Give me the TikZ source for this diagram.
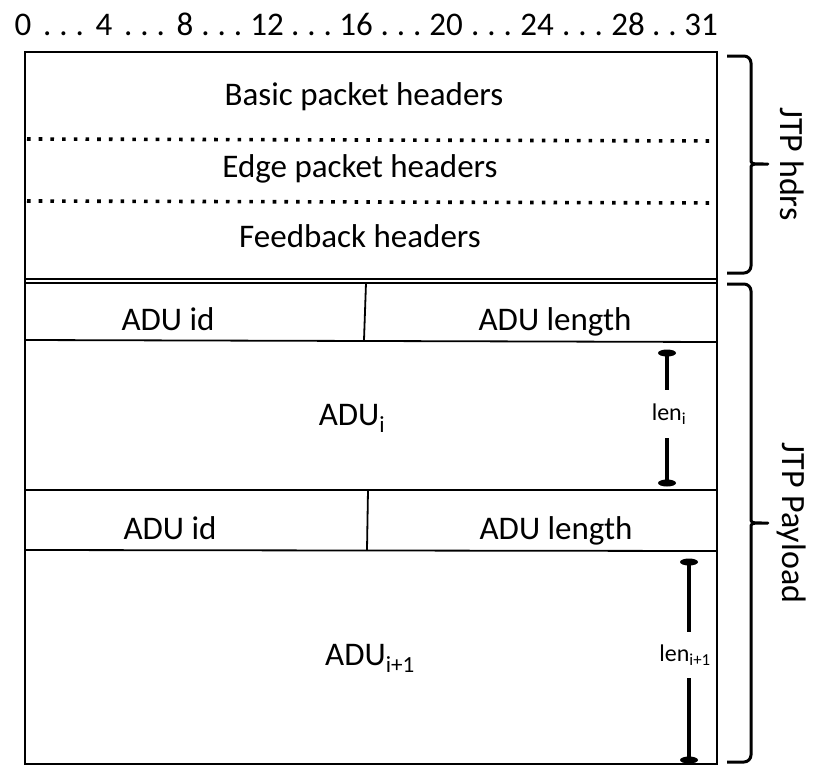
\documentclass[tikz,border=0pt]{standalone}
\usepackage{fontspec}
\setmainfont{Carlito}
\usetikzlibrary{calc}
\tikzset{
  fldtxt/.style={font=\fontsize{33}{38}\selectfont, inner sep=0pt, anchor=base},
  bittxt/.style={font=\fontsize{33}{36}\selectfont, inner sep=0pt, anchor=base},
  lentxt/.style={font=\fontsize{24}{28}\selectfont, inner sep=0pt, minimum height=#1},
  sidetxt/.style={font=\fontsize{34}{38}\selectfont, rotate=-90, inner sep=0pt},
  frame/.style={line width=2.2pt},
  sep/.style={line width=1.8pt},
  dotsep/.style={line width=3.6pt, dash pattern=on 3.6pt off 8.1pt},
  brc/.style={line width=3pt, rounded corners=7pt, line join=round},
  lenbar/.style={line width=3.8pt},
}

\begin{document}
\begin{tikzpicture}[x=1pt,y=-1pt]
    \useasboundingbox (0,0) rectangle (817,766);
    \foreach \x/\n [count=\k] in {23/0,104/4,185/8,267/12,356/16,446/20,537/24,628/28,701/31}
      \node[bittxt] (b\k) at (\x,35) {\n};
    \foreach \a/\b/\nd in {1/2/3,2/3/3,3/4/3,4/5/3,5/6/3,6/7/3,7/8/3,8/9/2}
      \node[bittxt] (d\a) at ($(b\a.base east)!0.5!(b\b.base west)$)
        {\addfontfeature{LetterSpace=24}\ifnum\nd=3 ...\else ..\fi};

    \draw[frame] (25,52) rectangle (717,764);
    \draw[dotsep] (27,139) -- (717,141);
    \draw[dotsep] (27,201) -- (717,203);
    \draw[sep] (25,279) -- (717,279);
    \draw[sep] (25,283) -- (717,283);
    \draw[sep] (366,283) -- (364,340);
    \draw[sep] (25,340) -- (717,342);
    \draw[sep] (25,490) -- (717,490);
    \draw[sep] (368,490) -- (367,550);
    \draw[sep] (25,550) -- (717,551);

    \node[fldtxt] (basic) at (364,105) {Basic packet headers};
    \node[fldtxt] (edge)  at (360,177) {Edge packet headers};
    \node[fldtxt] (fb)    at (360,247) {Feedback headers};
    \node[fldtxt] (idA)   at (168,330) {ADU id};
    \node[fldtxt] (lnA)   at (555,330) {ADU length};
    \node[fldtxt] (aduA)  at (352,425) {ADU\textsubscript{i}};
    \node[fldtxt] (idB)   at (170,539) {ADU id};
    \node[fldtxt] (lnB)   at (556,539) {ADU length};
    \node[fldtxt] (aduB)  at (370,665) {ADU\textsubscript{i+1}};

    \coordinate (capAt) at (667,353);
    \coordinate (capAb) at (667,483);
    \node[lentxt=47pt] (lenA) at (669,414) {len\textsubscript{i}};
    \draw[lenbar] (capAt) -- (capAt |- lenA.north);
    \draw[lenbar] (capAb) -- (capAb |- lenA.south);
    \fill (capAt) ellipse [x radius=9pt, y radius=3.5pt];
    \fill (capAb) ellipse [x radius=9pt, y radius=3.5pt];

    \coordinate (capBt) at (689,562);
    \coordinate (capBb) at (689,760);
    \node[lentxt=46pt] (lenB) at (685,655) {len\textsubscript{i+1}};
    \draw[lenbar] (capBt) -- (capBt |- lenB.north);
    \draw[lenbar] (capBb) -- (capBb |- lenB.south);
    \fill (capBt) ellipse [x radius=9pt, y radius=3.5pt];
    \fill (capBb) ellipse [x radius=9pt, y radius=3.5pt];

    \draw[brc] (727,56) -- (751,56) -- (751,152) .. controls (751,164) .. (772,164)
      .. controls (751,164) .. (751,176) -- (751,273) -- (727,273);
    \draw[brc] (727,284) -- (751,284) -- (751,511) .. controls (751,523) .. (772,523)
      .. controls (751,523) .. (751,535) -- (751,762) -- (727,762);
    \node[sidetxt] (hdrs) at (792,164) {JTP hdrs};
    \node[sidetxt] (pay)  at (792,523) {JTP Payload};
  \end{tikzpicture}
\end{document}
